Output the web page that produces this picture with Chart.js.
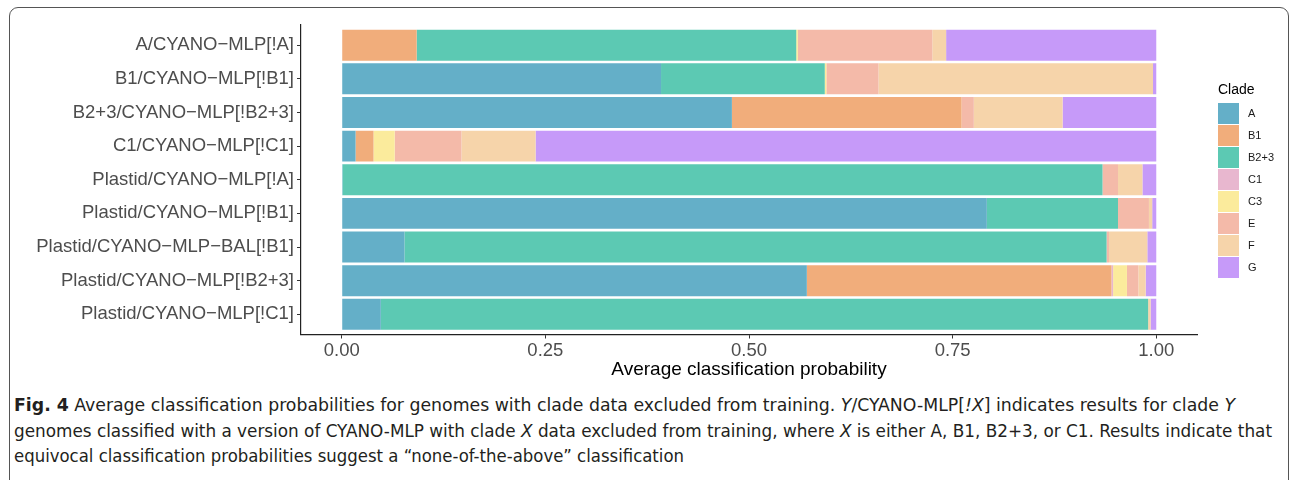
<!DOCTYPE html>
<html>
<head>
<meta charset="utf-8">
<script src="https://cdn.jsdelivr.net/npm/chart.js@4"></script>
<style>
  html, body { margin: 0; padding: 0; background: #fff; }
  body { width: 1293px; height: 480px; position: relative; overflow: hidden; font-family: "Liberation Sans", Arial, sans-serif; }
  #frame { position: absolute; left: 9px; top: 7px; width: 1280px; height: 520px; border: 1.5px solid #555; border-radius: 9px; box-sizing: border-box; }
  #wrap { position: absolute; left: 0; top: 0; width: 1293px; height: 390px; }
  #legend { position: absolute; left: 1218px; top: 80px; }
  #legend .title { font-size: 14px; color: #000; height: 22px; line-height: 18px; }
  #legend .row { height: 22px; display: flex; align-items: center; }
  #legend .key { width: 21px; height: 21px; margin-right: 9px; }
  #legend .lab { font-size: 11px; color: #1a1a1a; }
  #caption { position: absolute; left: 14px; top: 392px; font-family: "Liberation Sans Narrow", "DejaVu Sans Condensed", "Roboto", sans-serif; font-size: 18px; color: #231f20; }
  #caption .line { height: 25.5px; line-height: 25.5px; white-space: nowrap; }
  #caption .line span.fit { display: inline-block; transform-origin: left center; }
</style>
</head>
<body>
<div id="frame"></div>
<div id="wrap"><canvas id="chart"></canvas></div>
<div id="legend"></div>
<div id="caption">
  <div class="line"><span class="fit" data-w="1221"><b>Fig. 4</b> Average classification probabilities for genomes with clade data excluded from training. <i>Y</i>/CYANO-MLP[<i>!X</i>] indicates results for clade <i>Y</i></span></div>
  <div class="line"><span class="fit" data-w="1258">genomes classified with a version of CYANO-MLP with clade <i>X</i> data excluded from training, where <i>X</i> is either A, B1, B2+3, or C1. Results indicate that</span></div>
  <div class="line"><span class="fit" data-w="670">equivocal classification probabilities suggest a “none-of-the-above” classification</span></div>
</div>
<script>
const categories = [
  "A/CYANO\u2212MLP[!A]",
  "B1/CYANO\u2212MLP[!B1]",
  "B2+3/CYANO\u2212MLP[!B2+3]",
  "C1/CYANO\u2212MLP[!C1]",
  "Plastid/CYANO\u2212MLP[!A]",
  "Plastid/CYANO\u2212MLP[!B1]",
  "Plastid/CYANO\u2212MLP\u2212BAL[!B1]",
  "Plastid/CYANO\u2212MLP[!B2+3]",
  "Plastid/CYANO\u2212MLP[!C1]"
];

const clades = ["A", "B1", "B2+3", "C1", "C3", "E", "F", "G"];
const cladeColors = ["#64afc8", "#f1ad7b", "#5cc9b3", "#e8b7cf", "#fbeb9c", "#f4baa9", "#f6d4aa", "#c69af9"];

const probA   = [0.000, 0.392, 0.479, 0.017, 0.001, 0.792, 0.077, 0.571, 0.048];
const probB1  = [0.092, 0.000, 0.282, 0.022, 0.000, 0.000, 0.000, 0.374, 0.000];
const probB23 = [0.466, 0.201, 0.000, 0.000, 0.933, 0.161, 0.862, 0.000, 0.942];
const probC1  = [0.000, 0.000, 0.000, 0.000, 0.000, 0.000, 0.000, 0.002, 0.000];
const probC3  = [0.002, 0.002, 0.000, 0.026, 0.000, 0.000, 0.000, 0.017, 0.000];
const probE   = [0.165, 0.064, 0.015, 0.082, 0.019, 0.038, 0.003, 0.014, 0.000];
const probF   = [0.017, 0.337, 0.109, 0.091, 0.030, 0.004, 0.047, 0.009, 0.003];
const probG   = [0.258, 0.004, 0.115, 0.762, 0.017, 0.005, 0.011, 0.013, 0.007];

const xTicks = [0, 0.25, 0.5, 0.75, 1];

const series = [probA, probB1, probB23, probC1, probC3, probE, probF, probG];

const datasets = clades.map((name, k) => ({
  label: name,
  data: series[k].map((v, i) => ({ x: v, y: i })),
  backgroundColor: cladeColors[k],
  borderWidth: 0,
  categoryPercentage: 1,
  barPercentage: 0.92
}));

// legend (ggplot-style, keys stacked)
const legend = document.getElementById("legend");
legend.innerHTML = '<div class="title">Clade</div>' + clades.map((c, k) =>
  `<div class="row"><div class="key" style="background:${cladeColors[k]}"></div><div class="lab">${c}</div></div>`
).join("");

const canvas = document.getElementById("chart");
canvas.width = 1293;
canvas.height = 390;

new Chart(canvas.getContext("2d"), {
  type: "bar",
  data: { datasets: datasets },
  options: {
    indexAxis: "y",
    responsive: false,
    animation: false,
    layout: { padding: { left: 0, right: 96, top: 25, bottom: 0 } },
    plugins: { legend: { display: false }, tooltip: { enabled: false } },
    scales: {
      x: {
        type: "linear",
        stacked: true,
        min: -0.05,
        max: 1.05,
        afterBuildTicks: (s) => { s.ticks = xTicks.map((v) => ({ value: v })); },
        afterFit: (s) => { s.height = 55.5; },
        grid: { drawOnChartArea: false, tickLength: 4, color: "#333", lineWidth: 1 },
        border: { color: "#222", width: 1.2 },
        ticks: {
          padding: 1,
          color: "#4d4d4d",
          font: { family: "Liberation Sans", size: 18.5 },
          callback: (v) => Number(v).toFixed(2)
        },
        title: {
          display: true,
          text: "Average classification probability",
          color: "#000",
          font: { family: "Liberation Sans", size: 19 },
          padding: { top: 0, bottom: 9 }
        }
      },
      y: {
        type: "linear",
        stacked: true,
        reverse: true,
        offset: false,
        min: -0.6,
        max: categories.length - 0.4,
        afterBuildTicks: (s) => { s.ticks = categories.map((_, i) => ({ value: i })); },
        afterFit: (s) => { s.width = 301; },
        grid: { drawOnChartArea: false, offset: false, tickLength: 4, color: "#333", lineWidth: 1 },
        border: { color: "#222", width: 1.2 },
        ticks: {
          padding: 3,
          color: "#4d4d4d",
          font: { family: "Liberation Sans", size: 18.5 },
          callback: (v) => categories[v]
        }
      }
    }
  }
});

// stretch caption lines to the widths of the printed figure
document.querySelectorAll("#caption span.fit").forEach((el) => {
  const w = el.getBoundingClientRect().width;
  el.style.transform = `scaleX(${Number(el.dataset.w) / w})`;
});
</script>
</body>
</html>
